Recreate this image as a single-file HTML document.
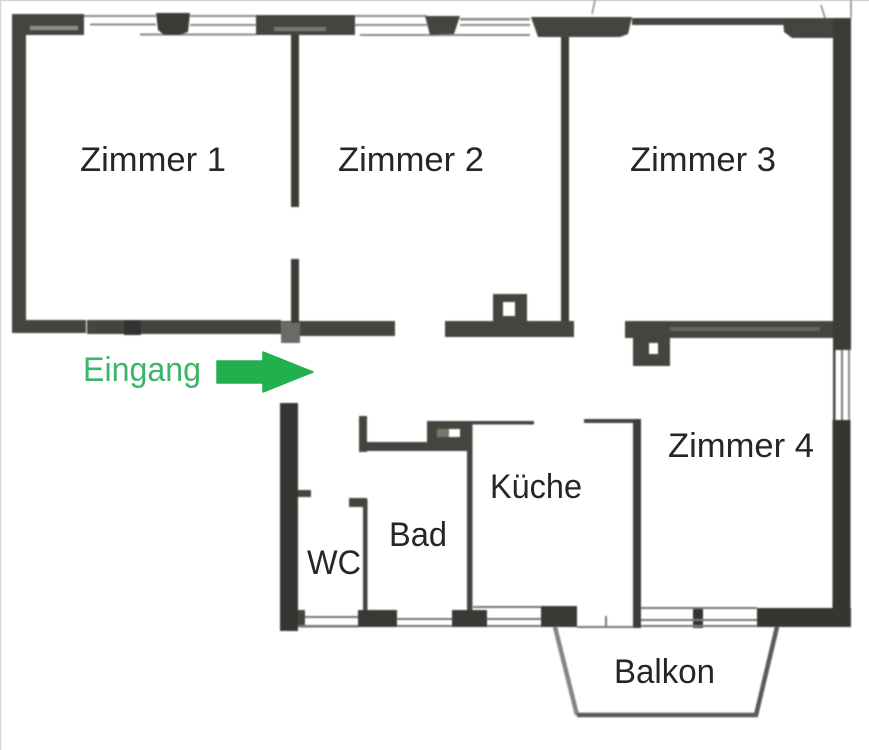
<!DOCTYPE html>
<html><head><meta charset="utf-8"><style>
html,body{margin:0;padding:0;background:#fff;width:869px;height:750px;overflow:hidden}
svg{display:block}
text{font-family:"Liberation Sans",sans-serif;fill:#262626;font-size:34px}
</style></head><body>
<svg width="869" height="750" viewBox="0 0 869 750" xmlns="http://www.w3.org/2000/svg">
<defs><filter id="b" x="-5%" y="-5%" width="110%" height="110%"><feGaussianBlur stdDeviation="0.7"/></filter></defs>
<rect x="0" y="0" width="869" height="1.2" fill="#d4d4d4"/>
<rect x="0" y="0" width="1.2" height="750" fill="#d4d4d4"/>
<g filter="url(#b)">
<g fill="#8a8a86">
<rect x="84" y="15" width="72" height="2"/><rect x="90" y="23.5" width="66" height="2"/><rect x="140" y="33.5" width="116" height="2"/>
<rect x="190" y="15" width="66" height="2"/><rect x="190" y="24" width="66" height="2"/>
<rect x="355" y="15" width="72" height="2"/><rect x="355" y="24" width="72" height="2"/><rect x="360" y="34" width="170" height="2"/>
<rect x="460" y="18" width="70" height="2.5"/><rect x="460" y="24" width="70" height="2"/>
</g>
<g fill="#44443f">
<!-- top -->
<rect x="12" y="14" width="72" height="21"/>
<rect x="30" y="26" width="48" height="4" fill="#8d8d88"/>
<path d="M156 13H190L188 32L180 35H164L158 30Z" fill="#3a3a38"/>
<rect x="256" y="15" width="99" height="20"/>
<rect x="274" y="27" width="52" height="4" fill="#777772"/>
<path d="M425 16H460L454 34L430 35Z"/>
<path d="M531 17H632L628 34L620 37H538Z"/>
<rect x="632" y="18" width="153" height="7"/>
<path d="M783 18H851V38H792L784 32Z"/>
<!-- right wall -->
<rect x="833" y="18" width="18" height="332" fill="#3a3a37"/>
<rect x="832.500" y="420" width="18" height="207" fill="#363633"/>
<rect x="833" y="350" width="2.500" height="70"/><rect x="841" y="350" width="2" height="70" fill="#777"/><rect x="848" y="350" width="2" height="70" fill="#888"/>
<!-- left wall and z1 bottom -->
<rect x="12" y="14" width="14" height="319"/>
<rect x="12" y="320" width="74" height="13"/>
<rect x="87" y="320" width="194" height="14"/>
<rect x="281" y="321" width="114" height="15"/>
<rect x="281" y="322" width="19" height="21" fill="#6a6a66"/>
<rect x="291" y="35" width="8" height="172" fill="#3c3c39"/>
<rect x="291" y="259" width="8" height="64" fill="#3c3c39"/>
<rect x="124" y="320" width="17" height="15" fill="#333"/>
<!-- z2 / z3 -->
<rect x="561" y="37" width="8" height="288" fill="#3c3c39"/>
<rect x="445" y="321" width="129" height="16"/>
<path fill-rule="evenodd" d="M493 294H527V322H493ZM503 302V316H515V302Z"/>
<rect x="625" y="321" width="208" height="17"/>
<rect x="670" y="327" width="150" height="4" fill="#63635e"/>
<path fill-rule="evenodd" d="M633 338H670V366H633ZM649 343V354H658V343Z"/>
<!-- service area -->
<rect x="280" y="403" width="18" height="228" fill="#363633"/>
<rect x="298" y="490" width="13" height="7"/>
<rect x="359" y="416" width="8" height="36"/>
<rect x="359" y="442" width="112" height="9"/>
<path fill-rule="evenodd" d="M427 421H471V451H427ZM437 429V437H460V429Z"/>
<rect x="437" y="429" width="12" height="8" fill="#77776f"/>
<rect x="470" y="421" width="64" height="3.500"/>
<rect x="467" y="424" width="5.500" height="186"/>
<rect x="363" y="499" width="4.500" height="112"/>
<rect x="349" y="498" width="18" height="9"/>
<rect x="358" y="610" width="39" height="17" fill="#383834"/>
<rect x="452" y="610" width="35" height="17" fill="#383834"/>
<rect x="541" y="606" width="36" height="21" fill="#383834"/>
<rect x="298" y="610" width="7" height="17"/>
<rect x="584" y="419" width="57" height="4"/>
<rect x="633" y="419" width="8" height="209" fill="#3c3c39"/>
<rect x="693" y="607" width="10" height="21" fill="#333"/>
<rect x="757" y="608" width="94" height="19" fill="#363633"/>
</g>
<g fill="#77776f">
<rect x="305" y="616" width="53" height="2"/><rect x="298" y="625" width="60" height="2.500"/>
<rect x="397" y="618" width="55" height="2"/><rect x="397" y="625" width="55" height="2"/>
<rect x="473" y="606" width="68" height="2"/><rect x="487" y="618" width="54" height="2"/><rect x="487" y="625" width="54" height="2"/>
<rect x="577" y="626" width="56" height="2"/><rect x="605" y="616" width="2" height="11"/>
<rect x="641" y="607" width="116" height="2"/><rect x="641" y="619" width="116" height="2"/><rect x="641" y="625" width="116" height="2"/>
</g>
<path d="M555 627L577 715" fill="none" stroke="#858580" stroke-width="4.500"/>
<path d="M577 715H756L777 627" fill="none" stroke="#5a5a55" stroke-width="4.500"/>
<path d="M595 0L592 14M821 5L825 18M851 0V18" stroke="#77776f" stroke-width="1.300" fill="none"/>
</g>
<text x="80" y="171" textLength="146" lengthAdjust="spacingAndGlyphs">Zimmer 1</text>
<text x="338" y="171" textLength="146" lengthAdjust="spacingAndGlyphs">Zimmer 2</text>
<text x="630" y="171" textLength="146" lengthAdjust="spacingAndGlyphs">Zimmer 3</text>
<text x="668" y="457" textLength="146" lengthAdjust="spacingAndGlyphs">Zimmer 4</text>
<text x="490" y="498" textLength="92" lengthAdjust="spacingAndGlyphs">Küche</text>
<text x="389" y="546" textLength="58" lengthAdjust="spacingAndGlyphs">Bad</text>
<text x="307" y="574" textLength="54" lengthAdjust="spacingAndGlyphs">WC</text>
<text x="614" y="683" textLength="101" lengthAdjust="spacingAndGlyphs">Balkon</text>
<text x="83" y="381" textLength="118" lengthAdjust="spacingAndGlyphs" style="fill:#3cb568">Eingang</text>
<path d="M217 361H263V352L313 372L263 392V383H217Z" fill="#22b04e" stroke="#22b04e" stroke-width="1.500" stroke-linejoin="round"/>
</svg>
</body></html>
